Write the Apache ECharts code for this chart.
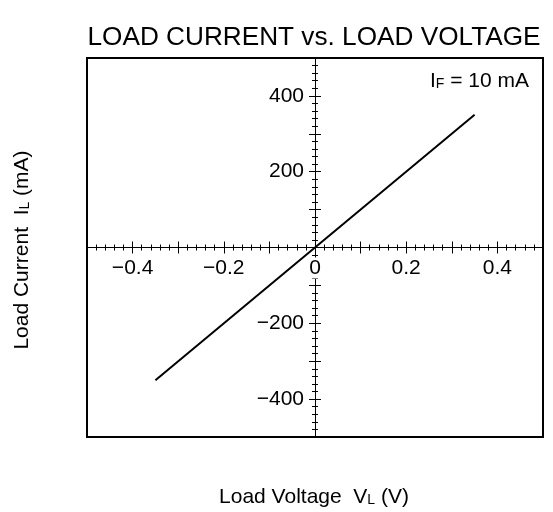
<!DOCTYPE html>
<html><head><meta charset="utf-8">
<script src="https://cdn.jsdelivr.net/npm/echarts@6/dist/echarts.min.js"></script>
<style>html,body{margin:0;padding:0;background:#fff}#c{width:553px;height:512px}</style>
</head><body><div id="c"></div>
<script>
var titleText = 'LOAD CURRENT vs. LOAD VOLTAGE';
var xName = 'Load Voltage  V';
var yName = 'Load Current  I';
var voltage = [-0.35, 0.35];   // V
var current = [-350, 350];     // mA
var xRange = [-0.5, 0.5];
var yRange = [-500, 500];
var xLabels = [-0.4, -0.2, 0, 0.2, 0.4];
var yLabels = [-400, -200, 200, 400];

var font = '"Liberation Sans", Arial, sans-serif';
var gridLeft = 87, gridTop = 58, gridW = 456, gridH = 379;
function fmtX(v){
  var r = Math.round(v*10)/10;
  for (var i=0;i<xLabels.length;i++) if (Math.abs(xLabels[i]-r)<1e-6 && Math.abs(v-r)<1e-6) {
    if (r === 0) return '{z|0}';
    return r<0 ? '\u2212'+Math.abs(r) : String(r);
  }
  return '';
}
function fmtY(v){
  for (var i=0;i<yLabels.length;i++) if (Math.abs(yLabels[i]-v)<1e-6) return v<0 ? '\u2212'+Math.abs(v) : String(v);
  return '';
}
var data = voltage.map(function(v,i){return [v, current[i]];});
// offset the axes so they pass through the origin
var xOff = -gridH * (0 - yRange[0]) / (yRange[1] - yRange[0]);
var yOff = -gridW * (0 - xRange[0]) / (xRange[1] - xRange[0]);
function xAx(inside, labels){
  return {type:'value', min:xRange[0], max:xRange[1], interval:0.1, position:'bottom', offset:xOff,
    axisLine:{show:true, onZero:false, lineStyle:{color:'#000', width:1}},
    axisTick:{show:true, inside:inside, length:6, lineStyle:{color:'#000', width:1}},
    minorTick:{show:true, splitNumber:5, length:3, lineStyle:{color:'#000', width:1}},
    splitLine:{show:false}, minorSplitLine:{show:false},
    axisLabel:{show:labels, formatter:fmtX, margin:10, color:'#000', fontSize:21, fontFamily:font,
      showMinLabel:true, showMaxLabel:true,
      rich:{z:{fontSize:21, fontFamily:font, color:'#000', backgroundColor:'#fff', padding:[0,1,0,1]}}}};
}
function yAx(inside, labels){
  return {type:'value', min:yRange[0], max:yRange[1], interval:100, position:'left', offset:yOff,
    axisLine:{show:true, onZero:false, lineStyle:{color:'#000', width:1}},
    axisTick:{show:true, inside:inside, length:6, lineStyle:{color:'#000', width:1}},
    minorTick:{show:true, splitNumber:5, length:3, lineStyle:{color:'#000', width:1}},
    splitLine:{show:false}, minorSplitLine:{show:false},
    axisLabel:{show:labels, formatter:fmtY, margin:11, color:'#000', fontSize:21, fontFamily:font}};
}
var chart = echarts.init(document.getElementById('c'), null, {renderer:'canvas'});
chart.setOption({
  animation:false,
  backgroundColor:'#fff',
  title:{text:titleText, left:309, top:20, textAlign:'center',
    textStyle:{fontSize:26.2, fontWeight:'normal', color:'#000', fontFamily:font}},
  grid:{left:gridLeft, top:gridTop, width:gridW, height:gridH, show:true, borderColor:'#000', borderWidth:2,
    backgroundColor:'transparent', outerBoundsMode:'none'},
  xAxis:[xAx(false,true), xAx(true,false)],
  yAxis:[yAx(false,true), yAx(true,false)],
  series:[{type:'line', data:data, showSymbol:false, symbol:'none',
    lineStyle:{color:'#000', width:2}, xAxisIndex:0, yAxisIndex:0}],
  graphic:[
    {type:'text', x:529, y:81, style:{
      text:'{b|I}{s|F}{b| = 10 mA}', align:'right', verticalAlign:'middle', fill:'#000',
      rich:{b:{fontSize:21, fontFamily:font, fill:'#000'}, s:{fontSize:14, fontFamily:font, fill:'#000', verticalAlign:'bottom'}}}},
    {type:'text', x:314, y:497, style:{
      text:'{b|'+xName+'}{s|L}{b| (V)}', align:'center', verticalAlign:'middle', fill:'#000',
      rich:{b:{fontSize:21, fontFamily:font, fill:'#000'}, s:{fontSize:14, fontFamily:font, fill:'#000', verticalAlign:'bottom'}}}},
    {type:'text', x:22, y:250, rotation:Math.PI/2, style:{
      text:'{b|'+yName+'}{s|L}{b| (mA)}', align:'center', verticalAlign:'middle', fill:'#000',
      rich:{b:{fontSize:21, fontFamily:font, fill:'#000'}, s:{fontSize:14, fontFamily:font, fill:'#000', verticalAlign:'bottom'}}}}
  ]
});
</script></body></html>
